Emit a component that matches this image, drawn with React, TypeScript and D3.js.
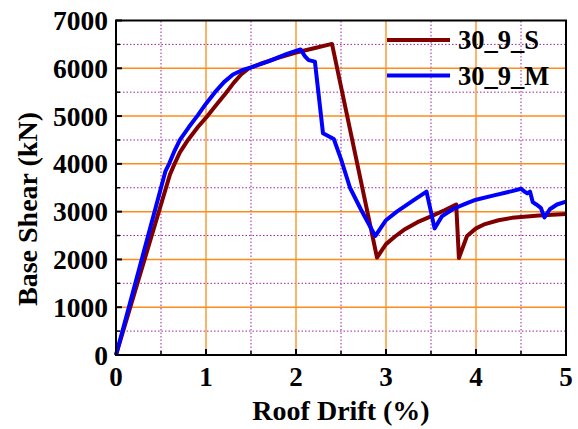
import React from 'react';
import * as d3 from 'd3';

// Pushover curves, roof drift (%) vs base shear (kN)
const sDrift = [0, 0.6, 0.65, 0.71, 0.8, 0.91, 1.02, 1.12, 1.22, 1.31, 1.39, 1.47, 1.6, 1.8, 2.0, 2.2, 2.4, 2.9, 3.0, 3.1, 3.2, 3.35, 3.5, 3.65, 3.78, 3.81, 3.9, 4.0, 4.1, 4.25, 4.4, 4.5, 4.7, 5.0];
const sShear = [0, 3780, 4000, 4240, 4500, 4770, 5010, 5245, 5480, 5700, 5870, 5990, 6090, 6220, 6330, 6420, 6510, 2040, 2320, 2480, 2620, 2780, 2900, 3030, 3150, 2030, 2490, 2650, 2740, 2820, 2870, 2890, 2920, 2950];

const mDrift = [0, 0.55, 0.59, 0.645, 0.71, 0.81, 0.91, 1.0, 1.1, 1.2, 1.3, 1.4, 1.5, 1.7, 1.9, 2.05, 2.1, 2.14, 2.21, 2.3, 2.42, 2.5, 2.6, 2.72, 2.88, 3.0, 3.12, 3.3, 3.45, 3.54, 3.62, 3.75, 3.9, 4.0, 4.2, 4.4, 4.5, 4.54, 4.57, 4.6, 4.63, 4.67, 4.72, 4.76, 4.82, 4.9, 5.0];
const mShear = [0, 3850, 4000, 4250, 4500, 4770, 5020, 5260, 5500, 5710, 5870, 5960, 6020, 6150, 6300, 6395, 6250, 6170, 6140, 4640, 4520, 4100, 3500, 3050, 2490, 2820, 3000, 3230, 3420, 2650, 2900, 3060, 3180, 3250, 3340, 3430, 3480, 3420, 3380, 3420, 3200, 3150, 3080, 2880, 3050, 3150, 3210];

const seriesNames = ['30_9_S', '30_9_M'];
const seriesColors = ['#800000', '#0000ff'];

const xTicks = [0, 1, 2, 3, 4, 5];
const yTicks = [0, 1000, 2000, 3000, 4000, 5000, 6000, 7000];
const xMinor = [0.5, 1.5, 2.5, 3.5, 4.5];
const yMinor = [500, 1500, 2500, 3500, 4500, 5500, 6500];

const W = 578;
const H = 429;
const margin = { top: 20.5, right: 12, bottom: 74, left: 116 };

export default function App() {
  const x = d3.scaleLinear().domain([0, 5]).range([margin.left, W - margin.right]);
  const y = d3.scaleLinear().domain([0, 7000]).range([H - margin.bottom, margin.top]);

  const line = d3.line<[number, number]>()
    .x(d => x(d[0]))
    .y(d => y(d[1]));

  const sData = sDrift.map((d, i) => [d, sShear[i]] as [number, number]);
  const mData = mDrift.map((d, i) => [d, mShear[i]] as [number, number]);
  const series = [sData, mData];

  const font = '"Liberation Serif", "Times New Roman", serif';
  const x0 = x(0), x1 = x(5), y0 = y(0), y1 = y(7000);

  return (
    <svg width={W} height={H} style={{ position: 'absolute', left: 0, top: 0 }} fontFamily={font}>
      <rect width={W} height={H} fill="#fff" />
      {/* minor grid */}
      {xMinor.map(v => (
        <line key={'xm' + v} x1={x(v)} x2={x(v)} y1={y0} y2={y1} stroke="#a020a0" strokeWidth={1} strokeDasharray="1.5,2" />
      ))}
      {yMinor.map(v => (
        <line key={'ym' + v} x1={x0} x2={x1} y1={y(v)} y2={y(v)} stroke="#a020a0" strokeWidth={1} strokeDasharray="1.5,2" />
      ))}
      {/* major grid */}
      {xTicks.slice(1, -1).map(v => (
        <line key={'xg' + v} x1={x(v)} x2={x(v)} y1={y0} y2={y1} stroke="#ff9a33" strokeWidth={1.5} />
      ))}
      {yTicks.slice(1, -1).map(v => (
        <line key={'yg' + v} x1={x0} x2={x1} y1={y(v)} y2={y(v)} stroke="#ff8c1a" strokeWidth={1.5} />
      ))}
      {/* data */}
      {series.map((s, i) => (
        <path key={i} d={line(s) || ''} fill="none" stroke={seriesColors[i]} strokeWidth={4} strokeLinejoin="round" />
      ))}
      {/* frame */}
      <rect x={x0} y={y1} width={x1 - x0} height={y0 - y1} fill="none" stroke="#000" strokeWidth={2} />
      {/* ticks */}
      {xTicks.map(v => (
        <line key={'xt' + v} x1={x(v)} x2={x(v)} y1={y0} y2={y0 - 6} stroke="#000" strokeWidth={2} />
      ))}
      {xMinor.map(v => (
        <line key={'xtm' + v} x1={x(v)} x2={x(v)} y1={y0} y2={y0 - 4} stroke="#000" strokeWidth={1.5} />
      ))}
      {yTicks.map(v => (
        <line key={'yt' + v} x1={x0} x2={x0 + 6} y1={y(v)} y2={y(v)} stroke="#000" strokeWidth={2} />
      ))}
      {yMinor.map(v => (
        <line key={'ytm' + v} x1={x0} x2={x0 + 4} y1={y(v)} y2={y(v)} stroke="#000" strokeWidth={1.5} />
      ))}
      {/* tick labels */}
      {xTicks.map(v => (
        <text key={'xl' + v} x={x(v)} y={y0 + 31} textAnchor="middle" fontSize={27} fontWeight="bold">{v}</text>
      ))}
      {yTicks.map(v => (
        <text key={'yl' + v} x={x0 - 8} y={y(v)} dy="0.35em" textAnchor="end" fontSize={27.5} fontWeight="bold">{v}</text>
      ))}
      {/* axis titles */}
      <text x={(x0 + x1) / 2} y={420} textAnchor="middle" fontSize={28} fontWeight="bold">Roof Drift (%)</text>
      <text transform="translate(37,209) rotate(-90)" textAnchor="middle" fontSize={28} fontWeight="bold">Base Shear (kN)</text>
      {/* legend */}
      {seriesNames.map((n, i) => (
        <g key={n} transform={`translate(387,${40 + i * 35.5})`}>
          <line x1={0} x2={63} y1={0} y2={0} stroke={seriesColors[i]} strokeWidth={4} />
          <text x={71} y={0} dy="0.35em" fontSize={26.5} fontWeight="bold">{n}</text>
        </g>
      ))}
    </svg>
  );
}
